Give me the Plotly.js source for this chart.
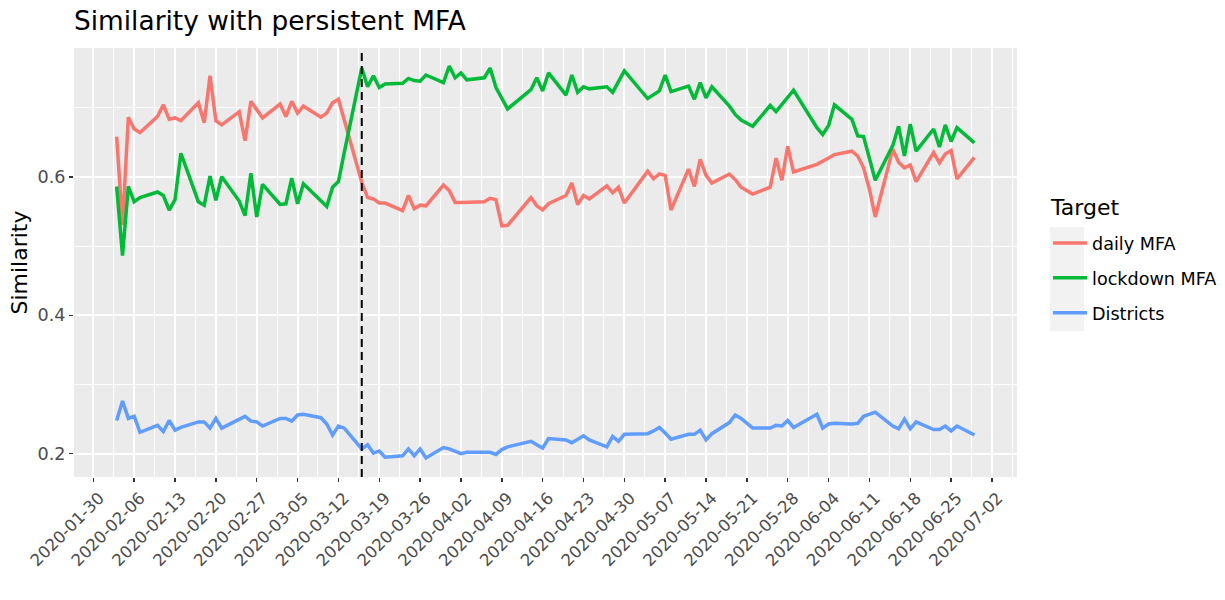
<!DOCTYPE html>
<html>
<head>
<meta charset="utf-8">
<script src="https://cdn.plot.ly/plotly-3.0.1.min.js"></script>
<style>
  body { margin: 0; background: #ffffff; }
  #similarity { width: 1225px; height: 600px; }
</style>
</head>
<body>
<div id="similarity"></div>
<script>
// weekdays with data (German holidays 04-13, 05-01, 05-21, 06-01 missing)
const dates = [
    "2020-02-03","2020-02-04","2020-02-05","2020-02-06","2020-02-07",
    "2020-02-10","2020-02-11","2020-02-12","2020-02-13","2020-02-14",
    "2020-02-17","2020-02-18","2020-02-19","2020-02-20","2020-02-21",
    "2020-02-24","2020-02-25","2020-02-26","2020-02-27","2020-02-28",
    "2020-03-02","2020-03-03","2020-03-04","2020-03-05","2020-03-06",
    "2020-03-09","2020-03-10","2020-03-11","2020-03-12","2020-03-13",
    "2020-03-16","2020-03-17","2020-03-18","2020-03-19","2020-03-20",
    "2020-03-23","2020-03-24","2020-03-25","2020-03-26","2020-03-27",
    "2020-03-30","2020-03-31","2020-04-01","2020-04-02","2020-04-03",
    "2020-04-06","2020-04-07","2020-04-08","2020-04-09","2020-04-10",
    "2020-04-14","2020-04-15","2020-04-16","2020-04-17",
    "2020-04-20","2020-04-21","2020-04-22","2020-04-23","2020-04-24",
    "2020-04-27","2020-04-28","2020-04-29","2020-04-30",
    "2020-05-04","2020-05-05","2020-05-06","2020-05-07","2020-05-08",
    "2020-05-11","2020-05-12","2020-05-13","2020-05-14","2020-05-15",
    "2020-05-18","2020-05-19","2020-05-20","2020-05-22",
    "2020-05-25","2020-05-26","2020-05-27","2020-05-28","2020-05-29",
    "2020-06-02","2020-06-03","2020-06-04","2020-06-05",
    "2020-06-08","2020-06-09","2020-06-10","2020-06-11","2020-06-12",
    "2020-06-15","2020-06-16","2020-06-17","2020-06-18","2020-06-19",
    "2020-06-22","2020-06-23","2020-06-24","2020-06-25","2020-06-26",
    "2020-06-29"
];

const daily_mfa = [
    0.658, 0.530, 0.686, 0.669, 0.664,
    0.687, 0.704, 0.683, 0.685, 0.681,
    0.707, 0.678, 0.746, 0.681, 0.675,
    0.694, 0.652, 0.709, 0.697, 0.685,
    0.705, 0.687, 0.709, 0.692, 0.702,
    0.686, 0.692, 0.707, 0.712, 0.683,
    0.592, 0.570, 0.568, 0.562, 0.562,
    0.551, 0.573, 0.554, 0.559, 0.558,
    0.588, 0.580, 0.563, 0.563, 0.563,
    0.564, 0.569, 0.567, 0.529, 0.530,
    0.570, 0.558, 0.552, 0.561,
    0.573, 0.591, 0.560, 0.573, 0.568,
    0.587, 0.577, 0.585, 0.562,
    0.608, 0.597, 0.604, 0.602, 0.552,
    0.611, 0.586, 0.625, 0.602, 0.591,
    0.604, 0.596, 0.585, 0.575,
    0.585, 0.627, 0.595, 0.644, 0.607,
    0.618, 0.622, 0.627, 0.632,
    0.637, 0.630, 0.613, 0.582, 0.542,
    0.640, 0.621, 0.613, 0.617, 0.593,
    0.635, 0.620, 0.633, 0.638, 0.597,
    0.628
];

const lockdown_mfa = [
    0.586, 0.486, 0.586, 0.564, 0.570,
    0.578, 0.573, 0.552, 0.567, 0.634,
    0.564, 0.559, 0.601, 0.566, 0.600,
    0.565, 0.544, 0.605, 0.542, 0.589,
    0.560, 0.561, 0.598, 0.561, 0.590,
    0.566, 0.557, 0.585, 0.593, 0.635,
    0.757, 0.730, 0.746, 0.729, 0.734,
    0.735, 0.742, 0.739, 0.738, 0.747,
    0.736, 0.760, 0.743, 0.750, 0.740,
    0.743, 0.757, 0.729, 0.713, 0.698,
    0.726, 0.743, 0.724, 0.750,
    0.718, 0.747, 0.722, 0.730, 0.727,
    0.730, 0.722, 0.738, 0.753,
    0.713, 0.718, 0.724, 0.747, 0.723,
    0.731, 0.712, 0.736, 0.714, 0.730,
    0.702, 0.690, 0.682, 0.673,
    0.703, 0.694, 0.704, 0.714, 0.725,
    0.671, 0.661, 0.674, 0.704,
    0.683, 0.659, 0.658, 0.627, 0.595,
    0.645, 0.673, 0.630, 0.676, 0.637,
    0.669, 0.643, 0.675, 0.651, 0.671,
    0.649
];

const districts = [
    0.248, 0.276, 0.251, 0.254, 0.231,
    0.241, 0.232, 0.248, 0.234, 0.238,
    0.246, 0.246, 0.237, 0.251, 0.237,
    0.250, 0.254, 0.247, 0.246, 0.240,
    0.251, 0.251, 0.247, 0.256, 0.257,
    0.252, 0.243, 0.227, 0.240, 0.237,
    0.207, 0.213, 0.201, 0.204, 0.195,
    0.197, 0.207, 0.197, 0.207, 0.194,
    0.209, 0.207, 0.203, 0.200, 0.202,
    0.202, 0.202, 0.199, 0.206, 0.210,
    0.218, 0.213, 0.208, 0.222,
    0.220, 0.216, 0.221, 0.226, 0.220,
    0.210, 0.225, 0.218, 0.228,
    0.229, 0.233, 0.238, 0.230, 0.221,
    0.228, 0.228, 0.234, 0.220, 0.229,
    0.245, 0.256, 0.251, 0.237,
    0.237, 0.241, 0.240, 0.248, 0.238,
    0.257, 0.237, 0.243, 0.244,
    0.243, 0.244, 0.254, 0.257, 0.260,
    0.240, 0.236, 0.250, 0.236, 0.246,
    0.235, 0.235, 0.240, 0.233, 0.240,
    0.227
];

const lockdown_date = "2020-03-16";
const DAY = 86400000;

function series(name, values, color) {
    return {
        x: dates,
        y: values,
        name: name,
        legendgroup: name,
        type: 'scatter',
        mode: 'lines',
        line: { color: color, width: 3.5 },
        hoverinfo: 'skip'
    };
}

const traces = [
    series('daily MFA', daily_mfa, '#F8766D'),
    series('lockdown MFA', lockdown_mfa, '#00BA38'),
    series('Districts', districts, '#619CFF')
];

// plot area in pixels, used for the legend key box
const plot_left = 74, plot_right = 1017, plot_top = 48, plot_bottom = 477;
const pw = plot_right - plot_left, ph = plot_bottom - plot_top;

Plotly.newPlot('similarity', traces, {
    width: 1225,
    height: 600,
    paper_bgcolor: '#ffffff',
    plot_bgcolor: '#EBEBEB',
    margin: { l: plot_left, r: 1225 - plot_right, t: plot_top, b: 600 - plot_bottom },
    font: { family: 'DejaVu Sans', color: '#000000' },
    title: {
        text: 'Similarity with persistent MFA',
        font: { size: 26.4, color: '#000000' },
        xref: 'paper', x: 0, xanchor: 'left',
        yref: 'container', y: 0.965, yanchor: 'middle'
    },
    xaxis: {
        type: 'date',
        range: ['2020-01-26 16:30', '2020-07-06 07:00'],
        tick0: '2020-01-30',
        dtick: 7 * DAY,
        tickformat: '%Y-%m-%d',
        tickangle: -45,
        tickfont: { size: 16.5, color: '#4D4D4D' },
        ticklabelshift: 6,
        ticks: 'outside', ticklen: 4, tickwidth: 1.5, tickcolor: '#333333',
        showgrid: true, gridcolor: '#ffffff', gridwidth: 2,
        minor: { tick0: '2020-01-30', dtick: 3.5 * DAY, showgrid: true, gridcolor: '#ffffff', gridwidth: 1 },
        zeroline: false, showline: false, fixedrange: true
    },
    yaxis: {
        range: [0.1664, 0.786],
        tick0: 0.2, dtick: 0.2,
        tickformat: '.1f',
        tickfont: { size: 17.6, color: '#4D4D4D' },
        ticks: 'outside', ticklen: 4, tickwidth: 1.5, tickcolor: '#333333',
        showgrid: true, gridcolor: '#ffffff', gridwidth: 2,
        minor: { tick0: 0.2, dtick: 0.1, showgrid: true, gridcolor: '#ffffff', gridwidth: 1 },
        title: { text: 'Similarity', font: { size: 22, color: '#000000' }, standoff: 3 },
        zeroline: false, showline: false, fixedrange: true
    },
    showlegend: true,
    legend: {
        xref: 'container', x: 1048 / 1225, xanchor: 'left',
        yref: 'container', y: 1 - 225 / 600, yanchor: 'top',
        bgcolor: 'rgba(0,0,0,0)',
        font: { size: 17.6, color: '#000000' },
        itemwidth: 34,
        tracegroupgap: 9
    },
    annotations: [
        {
            text: 'Target', showarrow: false,
            xref: 'paper', x: (1048 - plot_left) / pw, xanchor: 'left',
            yref: 'paper', y: 1 - (207 - plot_top) / ph, yanchor: 'middle',
            font: { size: 22, color: '#000000' }
        }
    ],
    shapes: [
        {
            type: 'line', xref: 'x', yref: 'paper',
            x0: lockdown_date, x1: lockdown_date, y0: 0, y1: 1,
            line: { color: '#000000', width: 2, dash: '8px,5px' }
        },
        {
            // grey legend key background
            type: 'rect', xref: 'paper', yref: 'paper', layer: 'below',
            x0: (1050 - plot_left) / pw, x1: (1084 - plot_left) / pw,
            y0: 1 - (331 - plot_top) / ph, y1: 1 - (227 - plot_top) / ph,
            fillcolor: '#F2F2F2', line: { width: 0 }
        }
    ]
}, { staticPlot: true });
</script>
</body>
</html>
